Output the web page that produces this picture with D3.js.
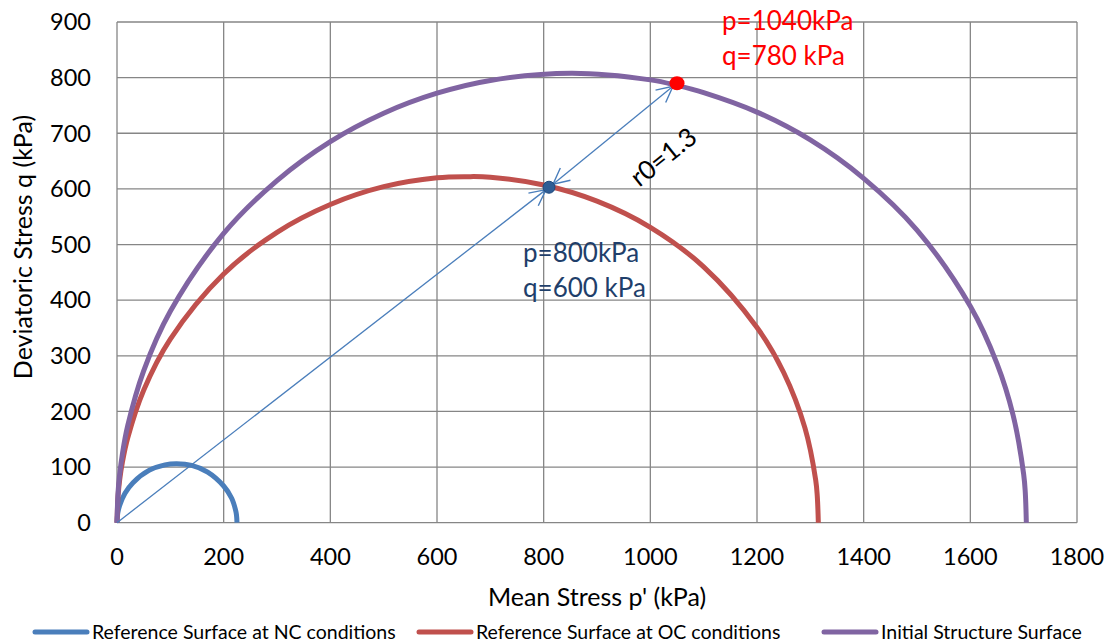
<!DOCTYPE html>
<html>
<head>
<meta charset="utf-8">
<script src="https://cdn.jsdelivr.net/npm/d3@7"></script>
<style>
  body { margin: 0; background: #fff; }
  svg { font-family: Lato, "Open Sans", sans-serif; }
</style>
</head>
<body>
<svg id="chart" width="1115" height="641"></svg>
<script>
// ---------------- données ----------------
var xTicks = [0, 200, 400, 600, 800, 1000, 1200, 1400, 1600, 1800];
var yTicks = [0, 100, 200, 300, 400, 500, 600, 700, 800, 900];

// surface de référence NC (bleu)
var ncP = [0, 1, 2, 5, 15, 30, 60, 90, 112, 140, 170, 200, 215, 222, 224, 225];
var ncQ = [0, 14, 20, 31, 53, 72, 94, 104, 106, 103, 91, 66, 44, 24, 14, 0];

// surface de référence OC (rouge)
var ocP = [0, 2, 5, 10, 20, 50, 100, 200, 300, 400, 500, 600, 657, 700, 800, 900, 1000, 1100, 1200, 1250, 1290, 1310, 1313, 1315];
var ocQ = [0, 48, 77, 108, 152, 238, 330, 447, 522, 572, 604, 620, 622, 621, 607, 578, 531, 460, 351, 270, 170, 77, 48, 0];

// surface de structure initiale (violet)
var isP = [0, 2, 5, 10, 20, 50, 100, 200, 300, 400, 500, 600, 700, 852, 1000, 1050, 1100, 1200, 1300, 1400, 1500, 1600, 1650, 1680, 1700, 1703, 1705];
var isQ = [0, 55, 87, 123, 174, 273, 380, 520, 615, 685, 736, 772, 795, 808, 796, 786, 773, 738, 688, 619, 526, 389, 286, 194, 87, 55, 0];

var pointOC = [810, 603];
var pointIS = [1050, 790];

var seriesNames = ["Reference Surface at NC conditions", "Reference Surface at OC conditions", "Initial Structure Surface"];
var seriesColors = ["#4a7ebb", "#c0504d", "#8064a2"];

// ---------------- mise en place ----------------
var svg = d3.select("#chart");
var x = d3.scaleLinear().domain([0, 1800]).range([117, 1077]);
var y = d3.scaleLinear().domain([0, 900]).range([522.7, 22]);

// grille
svg.append("g").selectAll("line").data(xTicks).enter().append("line")
    .attr("x1", d => x(d)).attr("x2", d => x(d))
    .attr("y1", y(0)).attr("y2", y(900))
    .attr("stroke", "#868686").attr("stroke-width", 1.3);
svg.append("g").selectAll("line").data(yTicks).enter().append("line")
    .attr("x1", x(0)).attr("x2", x(1800))
    .attr("y1", d => y(d)).attr("y2", d => y(d))
    .attr("stroke", "#868686").attr("stroke-width", 1.3);

// étiquettes des axes
svg.append("g").selectAll("text").data(xTicks).enter().append("text")
    .attr("x", d => x(d)).attr("y", 565)
    .attr("text-anchor", "middle").attr("font-size", 23.5).attr("fill", "#000")
    .text(d => d);
svg.append("g").selectAll("text").data(yTicks).enter().append("text")
    .attr("x", 91).attr("y", d => y(d) + 8.3)
    .attr("text-anchor", "end").attr("font-size", 23.5).attr("fill", "#000")
    .text(d => d);

svg.append("text").attr("x", 597).attr("y", 606)
    .attr("text-anchor", "middle").attr("font-size", 25)
    .text("Mean Stress p' (kPa)");
svg.append("text")
    .attr("transform", "translate(32,247) rotate(-90)")
    .attr("text-anchor", "middle").attr("font-size", 25)
    .text("Deviatoric Stress q (kPa)");

// courbes
var line = d3.line().x(d => x(d[0])).y(d => y(d[1])).curve(d3.curveCatmullRom.alpha(0.5));
var courbes = [d3.zip(ncP, ncQ), d3.zip(ocP, ocQ), d3.zip(isP, isQ)];

courbes.forEach(function (pts, i) {
    svg.append("path")
        .attr("d", line(pts))
        .attr("fill", "none")
        .attr("stroke", seriesColors[i])
        .attr("stroke-width", 5);
});

// flèches
var defs = svg.append("defs");
defs.append("marker")
    .attr("id", "fleche")
    .attr("viewBox", "0 0 18 18")
    .attr("refX", 17).attr("refY", 9)
    .attr("markerWidth", 18).attr("markerHeight", 18)
    .attr("markerUnits", "userSpaceOnUse")
    .attr("orient", "auto-start-reverse")
    .append("path")
    .attr("d", "M1,1 L17,9 L1,17")
    .attr("fill", "none")
    .attr("stroke", "#4a7ebb")
    .attr("stroke-width", 1.4);

svg.append("line")
    .attr("x1", x(0)).attr("y1", y(0))
    .attr("x2", x(pointOC[0]) - 3).attr("y2", y(pointOC[1]) + 2.4)
    .attr("stroke", "#4a7ebb").attr("stroke-width", 1.3)
    .attr("marker-end", "url(#fleche)");

svg.append("line")
    .attr("x1", x(pointOC[0]) + 4).attr("y1", y(pointOC[1]) - 3)
    .attr("x2", x(pointIS[0]) - 4).attr("y2", y(pointIS[1]) + 3)
    .attr("stroke", "#4a7ebb").attr("stroke-width", 1.3)
    .attr("marker-start", "url(#fleche)")
    .attr("marker-end", "url(#fleche)");

// points
svg.append("circle")
    .attr("cx", x(pointOC[0])).attr("cy", y(pointOC[1])).attr("r", 6)
    .attr("fill", "#2f5d95").attr("stroke", "#1f497d").attr("stroke-width", 1);
svg.append("ellipse")
    .attr("cx", x(pointIS[0])).attr("cy", y(pointIS[1])).attr("rx", 7.5).attr("ry", 7)
    .attr("fill", "#ff0000");

// annotations
svg.append("text").attr("x", 722).attr("y", 30).attr("font-size", 26).attr("fill", "#ff0000").text("p=1040kPa");
svg.append("text").attr("x", 722).attr("y", 65).attr("font-size", 26).attr("fill", "#ff0000").text("q=780 kPa");
svg.append("text").attr("x", 523).attr("y", 262).attr("font-size", 26).attr("fill", "#1f3f6b").text("p=800kPa");
svg.append("text").attr("x", 523).attr("y", 297).attr("font-size", 26).attr("fill", "#1f3f6b").text("q=600 kPa");
svg.append("text")
    .attr("transform", "translate(669,164) rotate(-38.5)")
    .attr("text-anchor", "middle").attr("font-size", 26).attr("fill", "#000")
    .text("r0=1.3");

// légende
var legX = [33, 417, 822];
var leg = svg.append("g").selectAll("g").data(seriesNames).enter().append("g")
    .attr("transform", (d, i) => "translate(" + legX[i] + ",632)");
leg.append("line")
    .attr("x1", 2).attr("x2", 54).attr("y1", 0).attr("y2", 0)
    .attr("stroke", (d, i) => seriesColors[i])
    .attr("stroke-width", 5).attr("stroke-linecap", "round");
leg.append("text")
    .attr("x", 59).attr("y", 6.5)
    .attr("font-size", 19.5).attr("fill", "#000")
    .text(d => d);
</script>
</body>
</html>
